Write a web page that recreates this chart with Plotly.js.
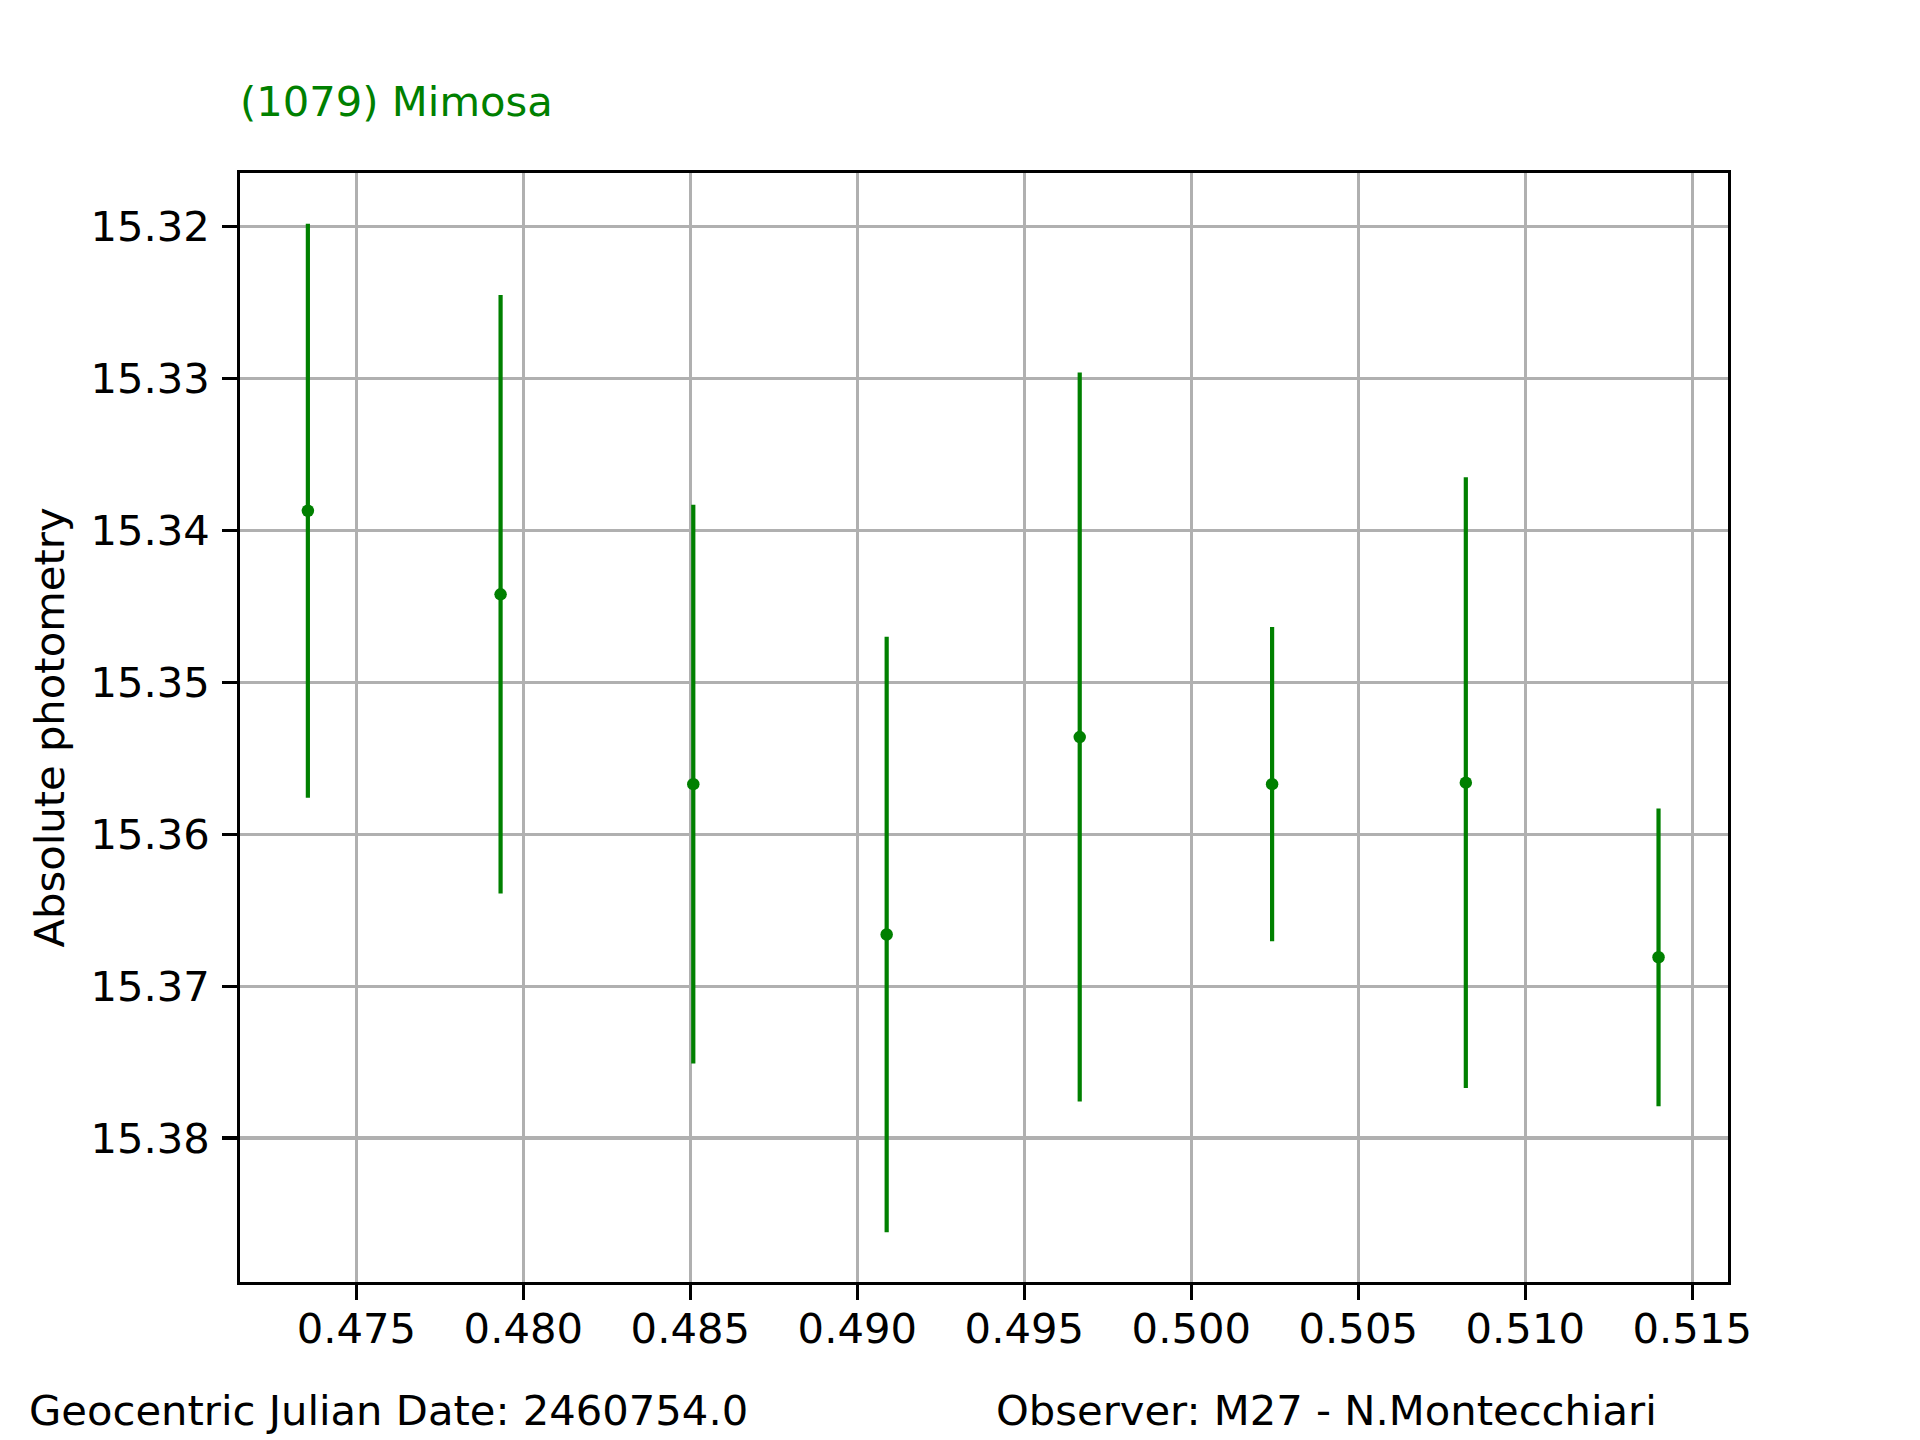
<!DOCTYPE html>
<html>
<head>
<meta charset="utf-8">
<script src="https://cdn.plot.ly/plotly-3.0.1.min.js"></script>
<style>
  html, body { margin: 0; padding: 0; background: #ffffff; }
  #chart { width: 1920px; height: 1440px; }
</style>
</head>
<body>
<div id="chart"></div>
<script>
// Data
const timeFraction = [0.47355, 0.47932, 0.48509, 0.49088, 0.49666, 0.50242, 0.50822, 0.51399];
const magnitude    = [15.3387, 15.3442, 15.3567, 15.3666, 15.3536, 15.3567, 15.3566, 15.3681];
const magError     = [0.0189, 0.0197, 0.0184, 0.0196, 0.0240, 0.01035, 0.0201, 0.0098];

const titleText = "(1079) Mimosa";
const yTitle = "Absolute photometry";
const footLeft = "Geocentric Julian Date: 2460754.0";
const footRight = "Observer: M27 - N.Montecchiari";

const GREEN = "#008000";
const FONT = "DejaVu Sans, Liberation Sans, sans-serif";
const FS = 41.7;

const trace = {
  type: "scatter",
  mode: "markers",
  x: timeFraction,
  y: magnitude,
  marker: { color: GREEN, size: 12.5, line: { width: 0 } },
  error_y: {
    type: "data",
    array: magError,
    visible: true,
    color: GREEN,
    thickness: 4.2,
    width: 0
  },
  showlegend: false,
  hoverinfo: "x+y"
};

const axisCommon = {
  showgrid: true,
  gridcolor: "#b0b0b0",
  gridwidth: 3.3,
  zeroline: false,
  showline: true,
  linecolor: "#000000",
  linewidth: 3.3,
  mirror: true,
  ticks: "outside",
  ticklen: 14.6,
  tickwidth: 3.3,
  tickcolor: "#000000",
  tickfont: { family: FONT, size: FS, color: "#000000" },
  automargin: false
};

const layout = {
  width: 1920,
  height: 1440,
  paper_bgcolor: "#ffffff",
  plot_bgcolor: "#ffffff",
  margin: { l: 240, r: 192, t: 172.8, b: 158.4, pad: 0 },
  font: { family: FONT, size: FS, color: "#000000" },
  title: {
    text: titleText,
    font: { family: FONT, size: FS, color: GREEN },
    xref: "paper",
    x: 0,
    xanchor: "left",
    yref: "container",
    y: 1 - 101 / 1440,
    yanchor: "middle"
  },
  xaxis: Object.assign({}, axisCommon, {
    range: [0.471518, 0.51607],
    tick0: 0.475,
    dtick: 0.005,
    tickformat: ".3f",
    ticklabelstandoff: -7
  }),
  yaxis: Object.assign({}, axisCommon, {
    range: [15.38948, 15.31646],
    tick0: 15.32,
    dtick: 0.01,
    tickformat: ".2f",
    ticklabelstandoff: 4,
    title: {
      text: yTitle,
      font: { family: FONT, size: FS, color: "#000000" },
      standoff: 13
    }
  }),
  annotations: [
    {
      text: footLeft,
      xref: "paper", yref: "paper",
      x: (27 - 240) / 1488, y: (1281.6 - 1410) / 1108.8,
      xanchor: "left", yanchor: "middle",
      showarrow: false,
      font: { family: FONT, size: FS, color: "#000000" }
    },
    {
      text: footRight,
      xref: "paper", yref: "paper",
      x: (994 - 240) / 1488, y: (1281.6 - 1410) / 1108.8,
      xanchor: "left", yanchor: "middle",
      showarrow: false,
      font: { family: FONT, size: FS, color: "#000000" }
    }
  ]
};

Plotly.newPlot("chart", [trace], layout, { displayModeBar: false, staticPlot: true });
</script>
</body>
</html>
